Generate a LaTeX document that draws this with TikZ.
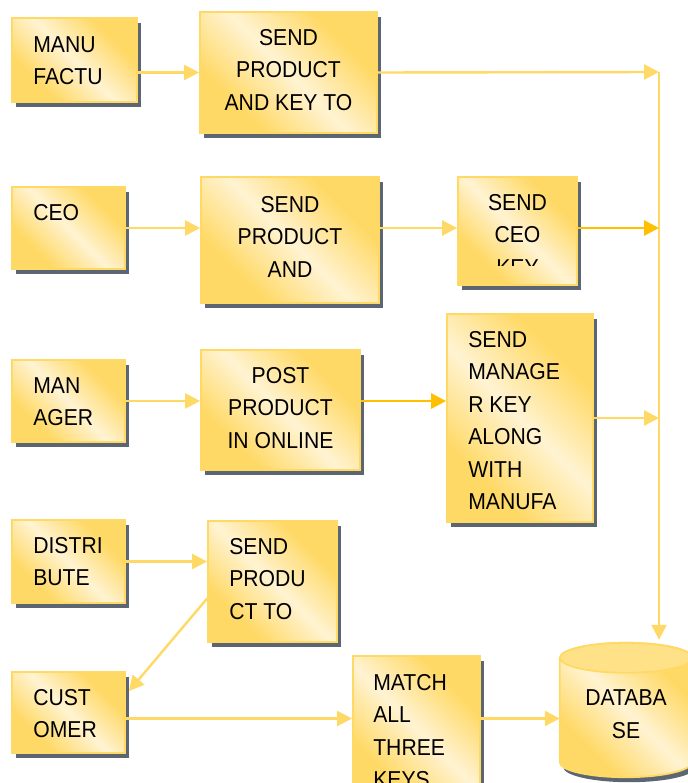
\documentclass[tikz,border=0pt]{standalone}
\usepackage{fontspec}
\newfontfamily\boxfont[FakeStretch=0.92]{Liberation Sans}
\usetikzlibrary{arrows.meta,shadows}

\definecolor{boxgold}{RGB}{255,217,102}
\definecolor{boxcream}{RGB}{255,243,210}
\definecolor{topgold}{RGB}{255,226,135}
\definecolor{darkgold}{RGB}{255,192,0}
\definecolor{shadowgray}{RGB}{92,102,114}

\pgfdeclarehorizontalshading{goldshade}{100bp}{color(0bp)=(boxgold); color(30bp)=(boxgold); color(50bp)=(boxcream); color(70bp)=(boxgold); color(100bp)=(boxgold)}

\tikzset{
   flowbox/.style={draw=boxgold, line width=1.8pt, shading=goldshade, shading angle=45, inner sep=0pt,
      drop shadow={shadow xshift=3.5pt, shadow yshift=-5pt, fill=shadowgray, opacity=1}},
   boxtext/.style={font=\boxfont\fontsize{23}{32.5}\selectfont, inner sep=0pt},
   flow/.style={draw=boxgold, line width=2.4pt, -{Triangle[length=15pt,width=15pt]}},
   flowdark/.style={draw=darkgold, line width=2.8pt, -{Triangle[length=15pt,width=15pt]}}
}

\begin{document}
\begin{tikzpicture}[x=1pt,y=-1pt]

   \useasboundingbox (0,0) rectangle (687,783);

   % boxes
   \node[flowbox, minimum width=125pt, minimum height=84pt] (manu) at (74.5,60) {};
   \node[flowbox, minimum width=177pt, minimum height=121pt] (sendkey) at (288.5,72.5) {};
   \node[flowbox, minimum width=113pt, minimum height=82pt] (ceo) at (68.5,228) {};
   \node[flowbox, minimum width=178pt, minimum height=126pt] (sendand) at (290,240) {};
   \node[flowbox, minimum width=119pt, minimum height=108pt] (ceokey) at (517.5,231) {};
   \node[flowbox, minimum width=113pt, minimum height=82pt] (mgr) at (68.5,401) {};
   \node[flowbox, minimum width=159pt, minimum height=120pt] (post) at (280.5,410) {};
   \node[flowbox, minimum width=146pt, minimum height=208pt] (mgrkey) at (520,418) {};
   \node[flowbox, minimum width=113pt, minimum height=83pt] (dist) at (68.5,561.5) {};
   \node[flowbox, minimum width=129pt, minimum height=121pt] (sendprodu) at (272.5,581.5) {};
   \node[flowbox, minimum width=113pt, minimum height=81pt] (cust) at (68.5,712.5) {};
   \node[flowbox, minimum width=127pt, minimum height=144pt] (match) at (416.5,728) {};

   % database
   \node[minimum width=132pt, minimum height=134pt, inner sep=0pt] (db) at (626,710) {};
   \path[flowbox] ([yshift=-15pt]db.north west) -- ([yshift=15pt]db.south west)
      arc[start angle=180, end angle=0, x radius=66, y radius=15]
      -- ([yshift=-15pt]db.north east)
      arc[start angle=0, end angle=-180, x radius=66, y radius=15] -- cycle;
   \draw[draw=boxgold, line width=1.8pt, fill=topgold] ([yshift=-15pt]db.north) ellipse [x radius=66, y radius=15];

   % texts
   \node[boxtext, align=left, anchor=north west] (manutext) at ([shift={(22pt,-19pt)}]manu.north west) {MANU\\FACTU};
   \node[boxtext, align=center, anchor=north] (sendkeytext) at ([yshift=-18pt]sendkey.north) {SEND\\PRODUCT\\AND KEY TO};
   \node[boxtext, align=left, anchor=north west] (ceotext) at ([shift={(22pt,-18pt)}]ceo.north west) {CEO};
   \node[boxtext, align=center, anchor=north] (sendandtext) at ([yshift=-20pt]sendand.north) {SEND\\PRODUCT\\AND};
   \begin{scope}
      \clip (ceokey.north west) rectangle ([yshift=20pt]ceokey.south east);
      \node[boxtext, align=center, anchor=north] (ceokeytext) at ([yshift=-18pt]ceokey.north) {SEND\\CEO\\KEY};
   \end{scope}
   \node[boxtext, align=left, anchor=north west] (mgrtext) at ([shift={(22pt,-18pt)}]mgr.north west) {MAN\\AGER};
   \node[boxtext, align=center, anchor=north] (posttext) at ([yshift=-18pt]post.north) {POST\\PRODUCT\\IN ONLINE};
   \begin{scope}
      \clip (mgrkey.north west) rectangle ([yshift=12pt]mgrkey.south east);
      \node[boxtext, align=left, anchor=north west] (mgrkeytext) at ([shift={(22pt,-18pt)}]mgrkey.north west) {SEND\\MANAGE\\R KEY\\ALONG\\WITH\\MANUFA};
   \end{scope}
   \node[boxtext, align=left, anchor=north west] (disttext) at ([shift={(22pt,-18pt)}]dist.north west) {DISTRI\\BUTE};
   \node[boxtext, align=left, anchor=north west] (sendprodutext) at ([shift={(22pt,-18pt)}]sendprodu.north west) {SEND\\PRODU\\CT TO};
   \node[boxtext, align=left, anchor=north west] (custtext) at ([shift={(22pt,-18pt)}]cust.north west) {CUST\\OMER};
   \node[boxtext, align=left, anchor=north west] (matchtext) at ([shift={(21pt,-19pt)}]match.north west) {MATCH\\ALL\\THREE\\KEYS};
   \node[boxtext, align=center, anchor=north] (dbtext) at ([yshift=-47pt]db.north) {DATABA\\SE};

   % connectors
   \coordinate (bus) at (659,72);
   \draw[flow] (manu.east |- sendkey.west) -- (sendkey.west);
   \draw[flow] (sendkey.east) -- (bus);
   \draw[flow] (bus) -- ([yshift=3pt]bus |- db.north);

   \draw[flow] (ceo.east) -- (ceo.east -| sendand.west);
   \draw[flow] (ceo.east -| sendand.east) -- (ceo.east -| ceokey.west);
   \draw[flowdark] (ceo.east -| ceokey.east) -- (ceo.east -| bus);

   \draw[flow] (mgr.east) -- (mgr.east -| post.west);
   \draw[flowdark] (mgr.east -| post.east) -- (mgr.east -| mgrkey.west);
   \draw[flow] (mgrkey.east) -- (mgrkey.east -| bus);

   \draw[flow] (dist.east) -- (dist.east -| sendprodu.west);
   \draw[flow] ([yshift=-17pt]sendprodu.west) -- ([shift={(3pt,-20pt)}]cust.north east);

   \draw[flow] ([yshift=-6pt]cust.east) -- ([yshift=-6pt]cust.east -| match.west);
   \draw[flow] ([yshift=-6pt]cust.east -| match.east) -- ([yshift=-6pt]cust.east -| db.west);

\end{tikzpicture}
\end{document}
